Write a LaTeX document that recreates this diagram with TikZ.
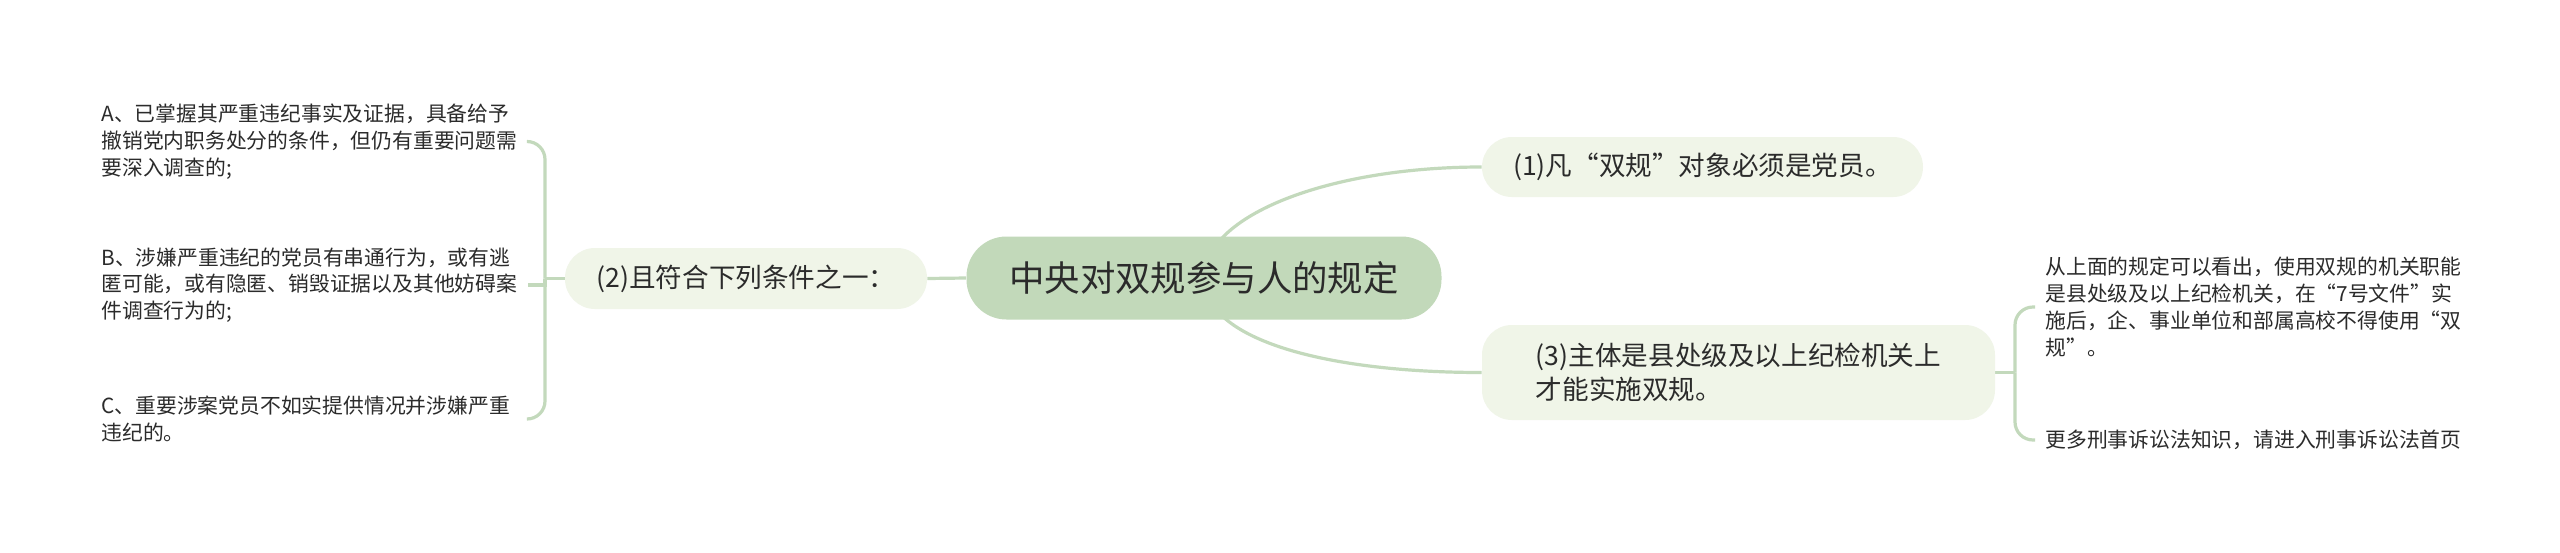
\documentclass[tikz,border=0pt]{standalone}
\usepackage{fontspec}
\setmainfont{Noto Sans CJK SC}
\usetikzlibrary{backgrounds}
\definecolor{sage}{HTML}{C2D9BA}
\definecolor{pale}{HTML}{F0F5E8}
\definecolor{twig}{HTML}{C3D9BC}
\definecolor{ink}{HTML}{2B2B2B}
\tikzstyle{root} = [rectangle, rounded corners=20pt, fill=sage, text=ink, minimum width=237.5pt, minimum height=41.5pt, font=\fontsize{17.7}{20}\selectfont]
\tikzstyle{branch} = [rectangle, rounded corners=15pt, fill=pale, text=ink, align=left, font=\fontsize{13.3}{17}\selectfont]
\tikzstyle{leaf} = [text width=208pt, inner xsep=5pt, align=left, text=ink, font=\fontsize{10.4}{13.35}\selectfont]
\tikzstyle{link} = [draw=twig, line width=1.6pt]

\begin{document}
\begin{tikzpicture}[x=0.5pt, y=-0.5pt]
    \useasboundingbox (0,0) rectangle (2560,552);
    \node[root] (root) at (1204,278) {中央对双规参与人的规定};
    \node[branch, minimum width=220.5pt, minimum height=30pt] (one) at (1702.5,167) {(1)凡“双规”对象必须是党员。};
    \node[branch, minimum width=181pt, minimum height=30.5pt] (two) at (746,278.5) {(2)且符合下列条件之一：};
    \node[branch, minimum width=256.5pt, minimum height=47.5pt] (three) at (1738.5,372.5) {(3)主体是县处级及以上纪检机关上\\才能实施双规。};
    % left leaves
    \node[leaf, anchor=west] (a) at (91,141.5) {A、已掌握其严重违纪事实及证据，具备给予\\撤销党内职务处分的条件，但仍有重要问题需\\要深入调查的;};
    \node[leaf, anchor=west] (b) at (91,285) {B、涉嫌严重违纪的党员有串通行为，或有逃\\匿可能，或有隐匿、销毁证据以及其他妨碍案\\件调查行为的;};
    \node[leaf, anchor=west] (c) at (91,419) {C、重要涉案党员不如实提供情况并涉嫌严重\\违纪的。};
    % right leaves
    \node[leaf, anchor=west] (note) at (2035,307) {从上面的规定可以看出，使用双规的机关职能\\是县处级及以上纪检机关，在“7号文件”实\\施后，企、事业单位和部属高校不得使用“双\\规”。};
    \node[leaf, anchor=west] (more) at (2035,440) {更多刑事诉讼法知识，请进入刑事诉讼法首页};
    \coordinate (jl) at (545,278.5);
    \coordinate (jr) at (2015,372.5);
    \begin{pgfonlayer}{background}
        \fill[white] (0,0) rectangle (2560,552);
        \draw[link] (root.center) .. controls +(0,-63) and +(-152,0) .. (one.west);
        \draw[link] (root.center) .. controls +(0,63) and +(-152,0) .. (three.west);
        \draw[link] (root.west) -- (two.east);
        \draw[link] (two.west) -- (jl);
        \draw[link, rounded corners=9pt] (jl) |- (a.east);
        \draw[link] (jl) |- (b.east);
        \draw[link, rounded corners=9pt] (jl) |- (c.east);
        \draw[link] (three.east) -- (jr);
        \draw[link, rounded corners=9pt] (jr) |- (note.west);
        \draw[link, rounded corners=9pt] (jr) |- (more.west);
    \end{pgfonlayer}
\end{tikzpicture}
\end{document}
